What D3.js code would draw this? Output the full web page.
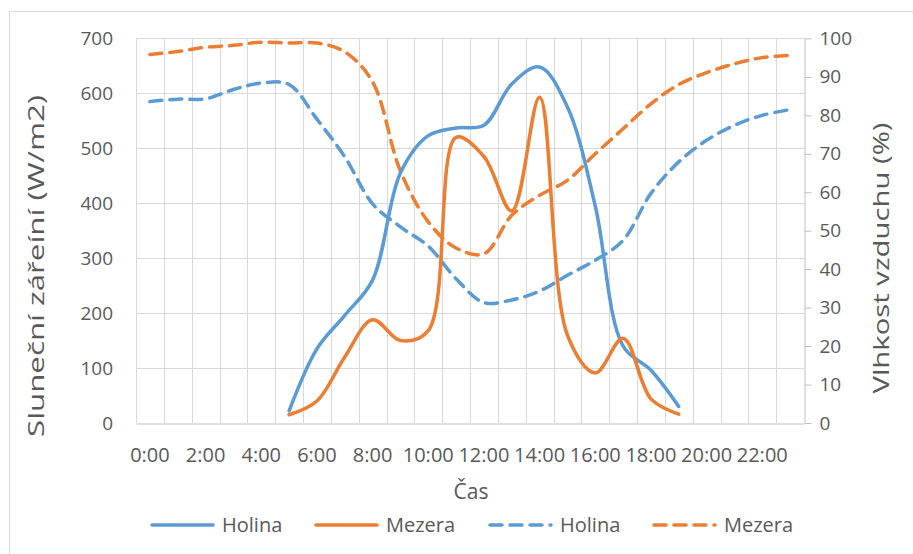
<!DOCTYPE html>
<html>
<head>
<meta charset="utf-8">
<script src="https://cdn.jsdelivr.net/npm/d3@7"></script>
<style>
  html, body { margin: 0; padding: 0; background: #fff; }
  svg { display: block; }
  text { font-family: "Open Sans", sans-serif; fill: #595959; }
</style>
</head>
<body>
<svg id="chart" width="913" height="554"></svg>
<script>
// Hourly categories (0:00 .. 23:00)
const categories = ["0:00","1:00","2:00","3:00","4:00","5:00","6:00","7:00","8:00","9:00","10:00","11:00",
                    "12:00","13:00","14:00","15:00","16:00","17:00","18:00","19:00","20:00","21:00","22:00","23:00"];
const xTickLabels = ["0:00","2:00","4:00","6:00","8:00","10:00","12:00","14:00","16:00","18:00","20:00","22:00"];
const leftTicks  = [0,100,200,300,400,500,600,700];
const rightTicks = [0,10,20,30,40,50,60,70,80,90,100];

// Solar radiation (W/m2), 5:00 .. 19:00
const radiationHours = ["5:00","6:00","7:00","8:00","9:00","10:00","11:00","12:00","13:00","14:00","15:00","16:00","17:00","18:00","19:00"];
const radiationHolina = [22,135,196,260,455,523,537,542,617,648,575,395,140,96,30];
const radiationMezera = [15,40,120,188,150,168,520,485,386,593,160,91,154,44,16];

// Air humidity (%), 0:00 .. 23:00
const humidityHolina = [83.6,84.2,84.3,86.7,88.4,88.0,79.0,69.2,57.0,51.0,46.0,37.5,31.3,32.0,34.3,38.4,42.3,47.5,59.7,67.9,73.5,77.4,80.0,81.5];
const humidityMezera = [95.8,96.6,97.7,98.2,99.0,98.8,98.8,96.5,88.7,65.5,52.3,45.5,44.0,54.0,59.2,63.1,70.0,76.5,83.0,88.0,91.1,93.4,95.0,95.6];

const seriesNames = ["Holina","Mezera","Holina","Mezera"];
const colors = { blue: "#5B9BD5", orange: "#ED7D31" };

const svg = d3.select("#chart");
const plot = { left: 136, right: 804, top: 38.4, bottom: 423 };
const tickFont = 19;

// chart frame
svg.append("rect")
  .attr("x", 9.5).attr("y", 11.5).attr("width", 1000).attr("height", 1000)
  .attr("fill", "none").attr("stroke", "#d9d9d9").attr("stroke-width", 1);

const x = d3.scaleBand().domain(categories).range([plot.left, plot.right]).padding(0);
const xc = c => x(c) + x.bandwidth() / 2;
const yL = d3.scaleLinear().domain([0, 700]).range([plot.bottom, plot.top]);
const yR = d3.scaleLinear().domain([0, 100]).range([plot.bottom, plot.top]);

// gridlines
const grid = svg.append("g").attr("stroke", "#d9d9d9").attr("stroke-width", 1);
leftTicks.filter(v => v > 0).forEach(v => {
  const yy = Math.round(yL(v)) + 0.5;
  grid.append("line").attr("x1", plot.left).attr("x2", plot.right).attr("y1", yy).attr("y2", yy);
});
categories.forEach(c => {
  const xx = Math.round(x(c)) + 0.5;
  grid.append("line").attr("x1", xx).attr("x2", xx).attr("y1", plot.top).attr("y2", plot.bottom);
});

// x axis (category labels every 2 hours, no ticks)
const xAxis = d3.axisBottom(x).tickValues(xTickLabels).tickSize(0).tickPadding(24);
const gx = svg.append("g").attr("transform", `translate(0,${Math.round(plot.bottom) + 0.5})`).call(xAxis);
gx.select(".domain").attr("stroke", "#bfbfbf");
gx.selectAll("text").attr("font-size", 20).style("font-family", "Open Sans").attr("fill", "#595959");

// left axis (labels only)
const yAxisL = d3.axisLeft(yL).tickValues(leftTicks).tickSize(0).tickPadding(23);
const gl = svg.append("g").attr("transform", `translate(${plot.left},0)`).call(yAxisL);
gl.select(".domain").remove();
gl.selectAll("text").attr("font-size", tickFont).style("font-family", "Open Sans").attr("fill", "#595959");

// right axis with outward ticks
const yAxisR = d3.axisRight(yR).tickValues(rightTicks).tickSize(7).tickSizeOuter(0).tickPadding(8);
const gr = svg.append("g").attr("transform", `translate(${Math.round(plot.right) + 0.5},0)`).call(yAxisR);
gr.select(".domain").attr("stroke", "#bfbfbf");
gr.selectAll(".tick line").attr("stroke", "#bfbfbf");
gr.selectAll("text").attr("font-size", tickFont).style("font-family", "Open Sans").attr("fill", "#595959");

// axis titles
svg.append("text").attr("transform", `translate(44,266) rotate(-90)`)
  .attr("text-anchor", "middle").attr("font-size", 21)
  .attr("textLength", 342).attr("lengthAdjust", "spacingAndGlyphs")
  .text("Sluneční zářeíní (W/m2)");
svg.append("text").attr("transform", `translate(889,258) rotate(-90)`)
  .attr("text-anchor", "middle").attr("font-size", 21)
  .attr("textLength", 271).attr("lengthAdjust", "spacingAndGlyphs")
  .text("Vlhkost vzduchu (%)");
svg.append("text").attr("x", 471).attr("y", 499)
  .attr("text-anchor", "middle").attr("font-size", 21).text("Čas");

// smoothed lines
const curve = d3.curveCatmullRom.alpha(0.5);
const radLine = d3.line().x(d => xc(d.c)).y(d => yL(d.v)).curve(curve);
const humLine = d3.line().x(d => xc(d.c)).y(d => yR(d.v)).curve(curve);

const dash = "12,8";
const lines = [
  { data: categories.map((c, i) => ({ c, v: humidityHolina[i] })), gen: humLine, color: colors.blue, dash },
  { data: categories.map((c, i) => ({ c, v: humidityMezera[i] })), gen: humLine, color: colors.orange, dash },
  { data: radiationHours.map((c, i) => ({ c, v: radiationHolina[i] })), gen: radLine, color: colors.blue, dash: null },
  { data: radiationHours.map((c, i) => ({ c, v: radiationMezera[i] })), gen: radLine, color: colors.orange, dash: null }
];
lines.forEach(s => {
  svg.append("path").attr("d", s.gen(s.data))
    .attr("fill", "none").attr("stroke", s.color).attr("stroke-width", 3.5)
    .attr("stroke-linejoin", "round").attr("stroke-linecap", "round")
    .attr("stroke-dasharray", s.dash);
});

// legend
const legendItems = [
  { name: seriesNames[0], color: colors.blue, dash: null, x: 152 },
  { name: seriesNames[1], color: colors.orange, dash: null, x: 316 },
  { name: seriesNames[2], color: colors.blue, dash, x: 490 },
  { name: seriesNames[3], color: colors.orange, dash, x: 654 }
];
const lg = svg.append("g");
legendItems.forEach(it => {
  lg.append("line").attr("x1", it.x).attr("x2", it.x + 61).attr("y1", 525).attr("y2", 525)
    .attr("stroke", it.color).attr("stroke-width", 3.5).attr("stroke-linecap", "round")
    .attr("stroke-dasharray", it.dash);
  lg.append("text").attr("x", it.x + 70).attr("y", 532).attr("font-size", 20).text(it.name);
});
</script>
</body>
</html>
